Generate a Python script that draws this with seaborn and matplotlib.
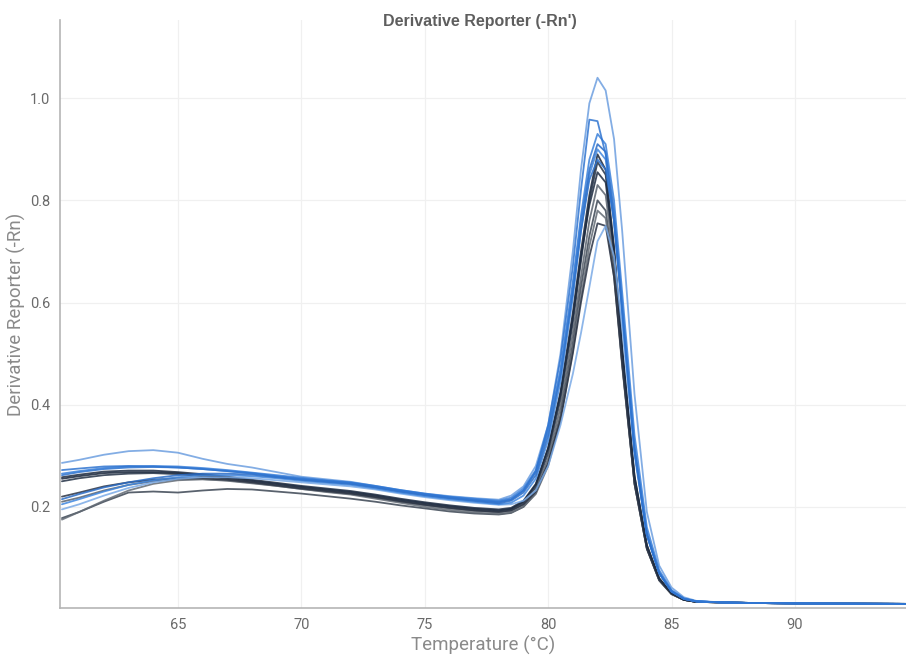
import matplotlib
matplotlib.use('Agg')
import matplotlib.pyplot as plt
import seaborn as sns
import pandas as pd

# melt curve temperatures (deg C)
temps = [60.3, 61, 62, 63, 64, 65, 66, 67, 68, 69, 70, 71, 72, 73, 74, 75, 76, 77, 78,
         78.5, 79, 79.5, 80, 80.5, 81, 81.33, 81.67, 82, 82.33, 82.67, 83, 83.5, 84, 84.5,
         85, 85.5, 86, 87, 88, 90, 94.5]

# derivative reporter (-Rn') per well
B1 = [0.286, 0.292, 0.302, 0.309, 0.311, 0.306, 0.294, 0.284, 0.277, 0.268, 0.259, 0.254, 0.249, 0.241, 0.233, 0.226, 0.221, 0.217, 0.214,
      0.222, 0.24, 0.28, 0.36, 0.50, 0.70, 0.86, 0.99, 1.04, 1.015, 0.92, 0.74, 0.42, 0.19, 0.085,
      0.042, 0.023, 0.016, 0.013, 0.012, 0.011, 0.010]
B2 = [0.272, 0.275, 0.279, 0.28, 0.279, 0.277, 0.274, 0.27, 0.266, 0.26, 0.255, 0.251, 0.247, 0.24, 0.232, 0.225, 0.219, 0.214, 0.21,
      0.215, 0.232, 0.27, 0.36, 0.49, 0.67, 0.82, 0.958, 0.955, 0.89, 0.76, 0.58, 0.31, 0.145, 0.07,
      0.035, 0.02, 0.015, 0.013, 0.012, 0.011, 0.010]
B3 = [0.265, 0.27, 0.276, 0.279, 0.28, 0.279, 0.276, 0.272, 0.267, 0.262, 0.257, 0.252, 0.248, 0.241, 0.233, 0.226, 0.22, 0.216, 0.212,
      0.218, 0.236, 0.272, 0.35, 0.47, 0.64, 0.77, 0.88, 0.93, 0.91, 0.80, 0.62, 0.34, 0.16, 0.076,
      0.037, 0.021, 0.015, 0.013, 0.012, 0.011, 0.010]
B4 = [0.215, 0.225, 0.238, 0.248, 0.256, 0.262, 0.265, 0.265, 0.263, 0.258, 0.253, 0.249, 0.245, 0.238, 0.23, 0.223, 0.217, 0.212, 0.207,
      0.212, 0.228, 0.262, 0.34, 0.46, 0.63, 0.76, 0.86, 0.91, 0.895, 0.78, 0.60, 0.32, 0.15, 0.072,
      0.035, 0.02, 0.015, 0.013, 0.012, 0.011, 0.010]
B5 = [0.205, 0.215, 0.23, 0.243, 0.252, 0.258, 0.262, 0.262, 0.26, 0.256, 0.251, 0.247, 0.243, 0.236, 0.228, 0.221, 0.215, 0.21, 0.205,
      0.208, 0.222, 0.255, 0.33, 0.445, 0.61, 0.74, 0.85, 0.90, 0.88, 0.76, 0.58, 0.31, 0.145, 0.07,
      0.034, 0.02, 0.015, 0.013, 0.012, 0.011, 0.010]
B6 = [0.195, 0.205, 0.222, 0.237, 0.248, 0.255, 0.258, 0.258, 0.256, 0.252, 0.248, 0.244, 0.24, 0.234, 0.226, 0.219, 0.213, 0.208, 0.204,
      0.205, 0.212, 0.232, 0.28, 0.36, 0.46, 0.54, 0.63, 0.72, 0.75, 0.69, 0.55, 0.30, 0.145, 0.07,
      0.035, 0.02, 0.015, 0.013, 0.012, 0.011, 0.010]
B7 = [0.262, 0.268, 0.274, 0.277, 0.278, 0.277, 0.274, 0.27, 0.265, 0.259, 0.254, 0.25, 0.246, 0.239, 0.231, 0.224, 0.218, 0.213, 0.209,
      0.214, 0.232, 0.268, 0.35, 0.46, 0.62, 0.74, 0.84, 0.88, 0.86, 0.76, 0.59, 0.31, 0.145, 0.07,
      0.034, 0.02, 0.015, 0.013, 0.012, 0.011, 0.010]
D1 = [0.255, 0.26, 0.266, 0.268, 0.268, 0.266, 0.262, 0.257, 0.251, 0.245, 0.239, 0.234, 0.229, 0.222, 0.214, 0.207, 0.201, 0.196, 0.193,
      0.196, 0.21, 0.243, 0.315, 0.425, 0.58, 0.70, 0.81, 0.89, 0.86, 0.71, 0.51, 0.26, 0.125, 0.06,
      0.031, 0.018, 0.014, 0.013, 0.012, 0.011, 0.010]
D2 = [0.25, 0.256, 0.262, 0.265, 0.266, 0.264, 0.26, 0.255, 0.249, 0.243, 0.237, 0.232, 0.227, 0.22, 0.212, 0.205, 0.199, 0.194, 0.191,
      0.195, 0.208, 0.238, 0.305, 0.41, 0.56, 0.68, 0.80, 0.875, 0.85, 0.70, 0.50, 0.255, 0.122, 0.058,
      0.03, 0.018, 0.014, 0.013, 0.012, 0.011, 0.010]
D3 = [0.21, 0.218, 0.232, 0.243, 0.25, 0.254, 0.254, 0.251, 0.246, 0.241, 0.235, 0.23, 0.225, 0.218, 0.21, 0.203, 0.197, 0.192, 0.189,
      0.192, 0.204, 0.232, 0.295, 0.395, 0.54, 0.65, 0.76, 0.83, 0.81, 0.68, 0.49, 0.25, 0.12, 0.057,
      0.03, 0.018, 0.014, 0.013, 0.012, 0.011, 0.010]
D4 = [0.178, 0.19, 0.21, 0.228, 0.23, 0.228, 0.232, 0.235, 0.234, 0.23, 0.226, 0.221, 0.216, 0.21, 0.203, 0.197, 0.191, 0.187, 0.185,
      0.188, 0.2, 0.227, 0.285, 0.38, 0.52, 0.63, 0.73, 0.80, 0.78, 0.66, 0.48, 0.245, 0.118, 0.056,
      0.029, 0.018, 0.014, 0.013, 0.012, 0.011, 0.010]
D5 = [0.175, 0.19, 0.212, 0.232, 0.245, 0.252, 0.254, 0.252, 0.247, 0.241, 0.235, 0.229, 0.224, 0.216, 0.208, 0.2, 0.194, 0.189, 0.186,
      0.189, 0.2, 0.225, 0.28, 0.37, 0.505, 0.61, 0.71, 0.78, 0.765, 0.65, 0.475, 0.245, 0.118, 0.056,
      0.029, 0.018, 0.014, 0.013, 0.012, 0.011, 0.010]
D6 = [0.22, 0.228, 0.24, 0.248, 0.253, 0.256, 0.256, 0.253, 0.248, 0.242, 0.236, 0.231, 0.226, 0.219, 0.211, 0.204, 0.198, 0.193, 0.19,
      0.193, 0.205, 0.23, 0.285, 0.37, 0.50, 0.60, 0.69, 0.755, 0.75, 0.65, 0.48, 0.245, 0.118, 0.057,
      0.03, 0.018, 0.014, 0.013, 0.012, 0.011, 0.010]
D7 = [0.258, 0.263, 0.269, 0.271, 0.271, 0.268, 0.264, 0.259, 0.253, 0.247, 0.241, 0.236, 0.231, 0.224, 0.216, 0.209, 0.203, 0.198, 0.195,
      0.198, 0.212, 0.245, 0.315, 0.42, 0.57, 0.69, 0.79, 0.855, 0.835, 0.70, 0.51, 0.26, 0.125, 0.06,
      0.031, 0.018, 0.014, 0.013, 0.012, 0.011, 0.010]

wells = {'B1': B1, 'B2': B2, 'B3': B3, 'B4': B4, 'B5': B5, 'B6': B6, 'B7': B7,
         'D1': D1, 'D2': D2, 'D3': D3, 'D4': D4, 'D5': D5, 'D6': D6, 'D7': D7}
colors = {'B1': '#6d9fe0', 'B2': '#2f74d0', 'B3': '#3a80da', 'B4': '#2a6cc6', 'B5': '#3f86de',
          'B6': '#7aaae6', 'B7': '#2e72cc',
          'D1': '#17243a', 'D2': '#243246', 'D3': '#5a636e', 'D4': '#3c4654', 'D5': '#636b75',
          'D6': '#2a3344', 'D7': '#1c2a40'}

rows = {'Temperature': [], 'Value': [], 'Well': []}
for name, vals in wells.items():
    rows['Temperature'] += temps
    rows['Value'] += vals
    rows['Well'] += [name] * len(temps)
df = pd.DataFrame(rows)

sns.set_style('whitegrid')
plt.rcParams['font.family'] = ['Roboto', 'DejaVu Sans']

fig = plt.figure(figsize=(9.06, 6.58), dpi=100)
ax = fig.add_axes([0.0662, 0.076, 0.9338, 0.8936])

# dark wells first, blue ones on top
order = ['D1', 'D2', 'D3', 'D4', 'D5', 'D6', 'D7', 'B6', 'B1', 'B5', 'B4', 'B7', 'B3', 'B2']
for name in order:
    sub = df[df['Well'] == name]
    sns.lineplot(data=sub, x='Temperature', y='Value', color=colors[name], linewidth=1.3,
                 alpha=0.85, estimator=None, sort=False, ax=ax)

ax.set_xlim(60.22, 94.5)
ax.set_ylim(0.002, 1.153)
ax.set_xticks([65, 70, 75, 80, 85, 90])
ax.set_yticks([0.2, 0.4, 0.6, 0.8, 1.0])
ax.set_yticklabels(['0.2', '0.4', '0.6', '0.8', '1.0'])
ax.grid(True, color='#f0f0f0', linewidth=0.9)
ax.tick_params(axis='both', length=0, labelsize=10.5, labelcolor='#6a6a6a', pad=7)

for side in ['top', 'right']:
    ax.spines[side].set_visible(False)
for side in ['left', 'bottom']:
    ax.spines[side].set_color('#b5b5b5')
    ax.spines[side].set_linewidth(1.2)

ax.set_xlabel('Temperature (°C)', fontsize=13.5, color='#8a8a8a', labelpad=3)
ax.set_ylabel('Derivative Reporter (-Rn)', fontsize=13.5, color='#8a8a8a', labelpad=3)
fig.text(0.53, 0.968, "Derivative Reporter (-Rn')", ha='center', va='center',
         fontsize=11.5, fontweight='bold', color='#5e5e5e', family=['Liberation Sans Narrow', 'Liberation Sans', 'DejaVu Sans'])

plt.savefig('out.png', dpi=100)
plt.close()
